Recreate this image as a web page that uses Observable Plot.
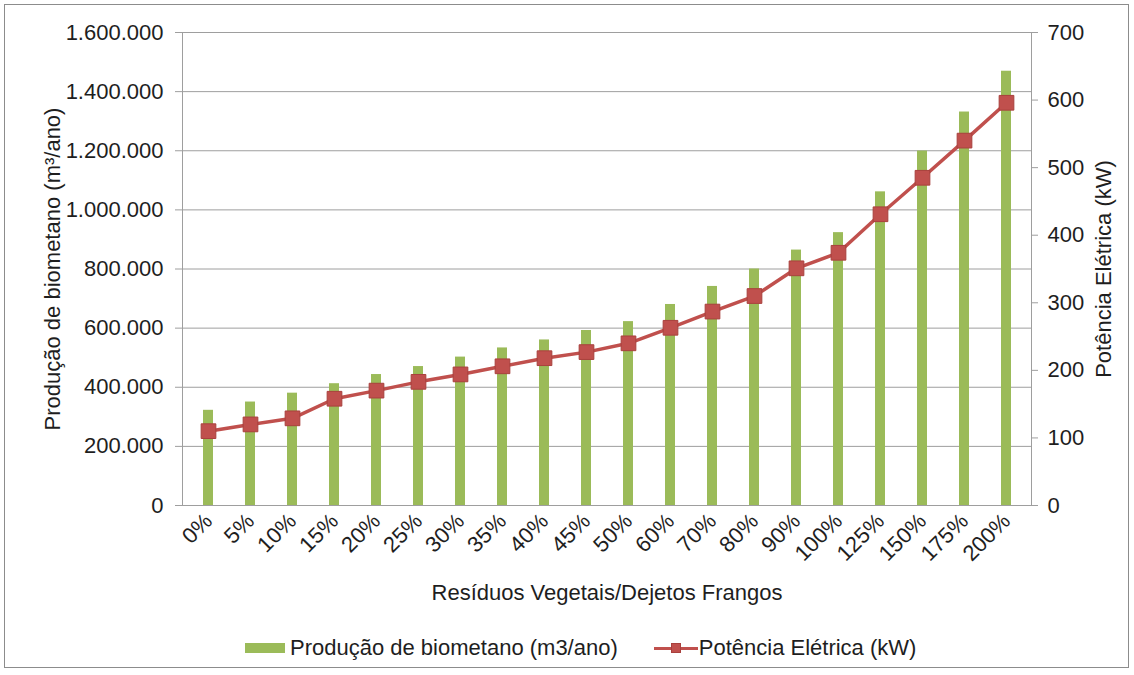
<!DOCTYPE html>
<html><head><meta charset="utf-8">
<script src="https://cdn.jsdelivr.net/npm/d3@7"></script>
<script src="https://cdn.jsdelivr.net/npm/@observablehq/plot@0.6"></script>
<style>
body{margin:0;background:#fff;font-family:"Liberation Sans",Arial,sans-serif;}
#wrap{position:relative;width:1134px;height:675px;overflow:hidden;background:#fff}
#border{position:absolute;left:4px;top:4px;width:1125px;height:664px;border:1px solid #8c8c8c;box-sizing:border-box;pointer-events:none}
#chart{position:absolute;left:0;top:0}
#legend{position:absolute;top:635px;left:245px;display:flex;align-items:center;font-size:22px;color:#1e1e1e;white-space:nowrap}
.sw-bar{width:40px;height:10px;background:#9bbb59;margin-right:5px}
.sw-line{position:relative;width:44px;height:20px;margin-left:36px;margin-right:1px}
.sw-line .ln{position:absolute;left:0;right:0;top:8.5px;height:3.5px;background:#c0504d}
.sw-line .mk{position:absolute;left:17px;top:5px;width:10px;height:10px;background:#c0504d;border:1px solid #a9403d;box-sizing:border-box}
g[aria-label="y-axis tick"] path{stroke:#9e9e9e}
</style>
</head><body>
<div id="wrap"><div id="chart"></div><div id="legend"></div><div id="border"></div></div>
<script>
const categories = ["0%","5%","10%","15%","20%","25%","30%","35%","40%","45%","50%","60%","70%","80%","90%","100%","125%","150%","175%","200%"];
const biomethane = [322000,350000,380000,412000,443000,470000,502000,533000,560000,592000,622000,680000,741000,800000,864000,923000,1061000,1199000,1331000,1469000];
const powerKW = [110,120,129,158,170,183,194,206,218,227,240,263,287,310,351,374,431,485,540,596];
const leftTicks = [0,200000,400000,600000,800000,1000000,1200000,1400000,1600000];
const rightTicks = [0,100,200,300,400,500,600,700];
const seriesNames = ["Produção de biometano (m3/ano)","Potência Elétrica (kW)"];
const leftTitle = "Produção de biometano (m³/ano)";
const rightTitle = "Potência Elétrica (kW)";
const xTitle = "Resíduos Vegetais/Dejetos Frangos";

const leftMax = leftTicks[leftTicks.length-1], rightMax = rightTicks[rightTicks.length-1];
const k = leftMax / rightMax;
const data = categories.map((c,i)=>({cat:c, bio:biomethane[i], kw:powerKW[i], kwScaled:powerKW[i]*k}));
const fmt = d3.formatLocale({decimal:",",thousands:".",grouping:[3],currency:["",""]}).format(",.0f");
const textColor = "#1e1e1e";

const chart = Plot.plot({
  width:1134, height:615,
  marginLeft:182, marginRight:103, marginTop:32, marginBottom:110,
  style:{fontFamily:"'Liberation Sans', Arial, sans-serif", fontSize:"22px", color:textColor, background:"transparent"},
  x:{type:"band", domain:categories, paddingInner:0.764, paddingOuter:0.382, label:null},
  y:{domain:[0,leftMax], label:null},
  marks:[
    Plot.ruleY(leftTicks, {stroke:"#9e9e9e", strokeWidth:1}),
    Plot.frame({stroke:"#9e9e9e"}),
    Plot.barY(data, {x:"cat", y:"bio", fill:"#9bbb59"}),
    Plot.line(data, {x:"cat", y:"kwScaled", stroke:"#c0504d", strokeWidth:3.5}),
    Plot.dot(data, {x:"cat", y:"kwScaled", symbol:"square", r:8.3, fill:"#c0504d", stroke:"#a9403d", strokeWidth:1}),
    Plot.axisY({anchor:"left", ticks:leftTicks, tickFormat:fmt, tickSize:7, tickPadding:12, label:null}),
    Plot.axisY({anchor:"right", ticks:rightTicks.map(v=>v*k), tickFormat:d=>String(Math.round(d/k)), tickSize:6, tickPadding:10, label:null}),
    Plot.axisX({tickRotate:-45, tickSize:0, tickPadding:12, label:null}),
    Plot.text([leftTitle], {frameAnchor:"left", rotate:-90, dx:-130, textAnchor:"middle", lineAnchor:"middle", fontSize:22, fill:textColor}),
    Plot.text([rightTitle], {frameAnchor:"right", rotate:-90, dx:72, textAnchor:"middle", lineAnchor:"middle", fontSize:22, fill:textColor}),
    Plot.text([xTitle], {frameAnchor:"bottom", dy:87, textAnchor:"middle", lineAnchor:"middle", fontSize:22, fill:textColor})
  ]
});
document.getElementById("chart").appendChild(chart);

const lg = document.getElementById("legend");
lg.innerHTML = `<div class="sw-bar"></div><span>${seriesNames[0]}</span><div class="sw-line"><div class="ln"></div><div class="mk"></div></div><span>${seriesNames[1]}</span>`;
</script>
</body></html>
